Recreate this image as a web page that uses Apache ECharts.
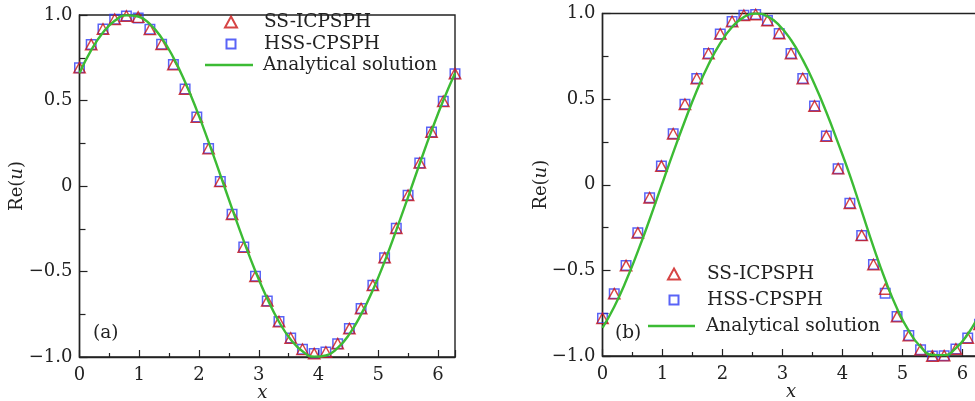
<!DOCTYPE html>
<html>
<head>
<meta charset="utf-8">
<script src="https://cdn.jsdelivr.net/npm/echarts@6/dist/echarts.min.js"></script>
<style>
html,body{margin:0;padding:0;background:#fff;}
#chart{width:975px;height:401px;}
</style>
</head>
<body>
<div id="chart"></div>
<script>
// x positions of the markers (both panels)
const xs = [0,0.196,0.393,0.589,0.785,0.982,1.178,1.374,1.571,1.767,1.963,2.160,2.356,2.553,2.749,2.945,3.142,3.338,3.534,3.731,3.927,4.123,4.320,4.516,4.712,4.909,5.105,5.301,5.498,5.694,5.890,6.087,6.283];

// Panel (a)
const aSS  = [0.692,0.827,0.918,0.975,0.994,0.988,0.916,0.829,0.710,0.567,0.403,0.219,0.027,-0.165,-0.357,-0.528,-0.672,-0.793,-0.889,-0.955,-0.980,-0.971,-0.922,-0.834,-0.717,-0.581,-0.419,-0.247,-0.054,0.135,0.316,0.495,0.657];
const aHSS = [0.692,0.827,0.918,0.975,0.994,0.983,0.916,0.829,0.710,0.567,0.403,0.219,0.027,-0.165,-0.357,-0.528,-0.672,-0.793,-0.889,-0.955,-0.980,-0.971,-0.922,-0.834,-0.717,-0.581,-0.419,-0.247,-0.054,0.135,0.316,0.495,0.657];
const aExact = [0.660,0.794,0.897,0.966,0.998,0.991,0.947,0.866,0.751,0.608,0.442,0.258,0.065,-0.132,-0.322,-0.500,-0.659,-0.794,-0.897,-0.966,-0.998,-0.991,-0.947,-0.866,-0.751,-0.608,-0.442,-0.258,-0.065,0.132,0.322,0.500,0.659];

// Panel (b)
const bSS  = [-0.780,-0.636,-0.472,-0.281,-0.076,0.109,0.298,0.470,0.620,0.766,0.881,0.953,0.990,0.994,0.959,0.883,0.766,0.620,0.460,0.284,0.094,-0.108,-0.296,-0.466,-0.609,-0.770,-0.881,-0.963,-1.000,-0.998,-0.959,-0.895,-0.815];
const bHSS = [-0.780,-0.636,-0.472,-0.281,-0.076,0.109,0.298,0.470,0.620,0.766,0.881,0.953,0.990,0.994,0.959,0.883,0.766,0.620,0.460,0.284,0.094,-0.108,-0.296,-0.466,-0.634,-0.770,-0.881,-0.963,-1.000,-0.998,-0.959,-0.895,-0.815];
const bExact = [-0.836,-0.712,-0.561,-0.389,-0.203,-0.007,0.188,0.374,0.549,0.702,0.827,0.921,0.979,1.000,0.983,0.931,0.845,0.729,0.587,0.423,0.243,0.055,-0.154,-0.363,-0.555,-0.722,-0.853,-0.946,-0.994,-0.995,-0.954,-0.873,-0.755];

const xTickLabels = ['0','1','2','3','4','5','6'];
const yTickLabels = {'1':'1.0','0.5':'0.5','0':'0','-0.5':'\u22120.5','-1':'\u22121.0'};
const names = ['SS-ICPSPH','HSS-CPSPH','Analytical solution'];
const panelLabels = ['(a)','(b)'];

const FONT = 'DejaVu Serif';
const RED = '#cc1515';
const BLUE = '#2f3cf5';
const GREEN = '#3cbb34';
const AX = '#222';

function pairs(x, y){ return x.map((v,i)=>[v,y[i]]); }

const grids = [
  {left:79.5, top:15, width:375.5, height:342, show:true, borderColor:AX, borderWidth:1.4, backgroundColor:'transparent', containLabel:false, outerBoundsMode:'none'},
  {left:602.5, top:13.5, width:377, height:342.5, show:true, borderColor:AX, borderWidth:1.4, backgroundColor:'transparent', containLabel:false, outerBoundsMode:'none'}
];

function xAx(g, gapPad){
  return {
    gridIndex:g, type:'value', min:0, max:6.283185, interval:1,
    axisLine:{show:true, onZero:false, lineStyle:{color:AX, width:1.4}},
    axisTick:{show:true, inside:true, length:7, lineStyle:{color:AX, width:1.2}},
    minorTick:{show:true, splitNumber:2, length:4, lineStyle:{color:AX, width:1.2}},
    splitLine:{show:false}, minorSplitLine:{show:false},
    axisLabel:{showMaxLabel:false, margin:9, color:AX, fontFamily:FONT, fontSize:18,
      formatter:v=>{const s=xTickLabels[Math.round(v)]; return (Math.abs(v-Math.round(v))<1e-6 && s!==undefined)?s:'';}},
    name:'{i|x}', nameLocation:'middle', nameGap:27, nameMoveOverlap:false,
    nameTextStyle:{padding:gapPad, rich:{i:{fontFamily:FONT, fontStyle:'italic', fontSize:18, color:AX}}}
  };
}
function yAx(g, gap){
  return {
    gridIndex:g, type:'value', min:-1, max:1, interval:0.5,
    axisLine:{show:true, onZero:false, lineStyle:{color:AX, width:1.4}},
    axisTick:{show:true, inside:true, length:8, lineStyle:{color:AX, width:1.2}},
    minorTick:{show:true, splitNumber:2, length:6, lineStyle:{color:AX, width:1.2}},
    splitLine:{show:false}, minorSplitLine:{show:false},
    axisLabel:{margin:7, color:AX, fontFamily:FONT, fontSize:18,
      formatter:v=>{const k=String(Math.round(v*2)/2); return yTickLabels[k]!==undefined?yTickLabels[k]:'';}},
    name:'{r|Re(}{i|u}{r|)}', nameLocation:'middle', nameGap:gap, nameRotate:90, nameMoveOverlap:false,
    nameTextStyle:{rich:{r:{fontFamily:FONT, fontSize:18, color:AX}, i:{fontFamily:FONT, fontStyle:'italic', fontSize:18, color:AX}}}
  };
}

function panelSeries(g, ss, hss, ex){
  return [
    {name:names[1], type:'scatter', xAxisIndex:g, yAxisIndex:g, symbol:'rect', symbolSize:9.5,
     itemStyle:{color:'rgba(255,255,255,0)', borderColor:BLUE, borderWidth:1.5}, data:pairs(xs,hss), z:2},
    {name:names[0], type:'scatter', xAxisIndex:g, yAxisIndex:g, symbol:'triangle', symbolSize:[11.5,10.5],
     itemStyle:{color:'rgba(255,255,255,0)', borderColor:RED, borderWidth:1.4}, data:pairs(xs,ss), z:3},
    {name:names[2], type:'line', xAxisIndex:g, yAxisIndex:g, smooth:true, showSymbol:false, symbol:'none',
     lineStyle:{color:GREEN, width:2.4}, itemStyle:{color:GREEN}, data:pairs(xs,ex), z:4}
  ];
}

function legendItem(nameIdx, icon, left, top, w, h, pad){
  return {
    orient:'vertical', left:left, top:top, itemWidth:w, itemHeight:h, itemGap:0,
    data:[{name:names[nameIdx], icon:icon}],
    textStyle:{fontFamily:FONT, fontSize:18.5, color:AX, lineHeight:20, padding:[0,0,0,pad]},
    selectedMode:false, padding:0
  };
}

const option = {
  animation:false,
  backgroundColor:'#fff',
  title:[
    {text:panelLabels[0], left:93, top:324, padding:0, textStyle:{fontFamily:FONT, fontSize:18.5, fontWeight:'normal', color:AX}},
    {text:panelLabels[1], left:615, top:324, padding:0, textStyle:{fontFamily:FONT, fontSize:18.5, fontWeight:'normal', color:AX}}
  ],
  legend:[
    legendItem(0,'triangle',224,12,12,11,22),
    legendItem(1,'rect',225.5,34,9,9,23.5),
    legendItem(2,'rect',205,55,48,2.5,5),
    legendItem(0,'triangle',667,264,12,11,22),
    legendItem(1,'rect',668.5,290,9,9,23.5),
    legendItem(2,'rect',648,316,47,2.5,6)
  ],
  grid:grids,
  xAxis:[xAx(0,[0,10,0,0]), xAx(1,[0,0,0,0])],
  yAxis:[yAx(0,53), yAx(1,52)],
  series:[].concat(panelSeries(0,aSS,aHSS,aExact), panelSeries(1,bSS,bHSS,bExact))
};

const chart = echarts.init(document.getElementById('chart'), null, {renderer:'canvas'});
chart.setOption(option);
</script>
</body>
</html>
